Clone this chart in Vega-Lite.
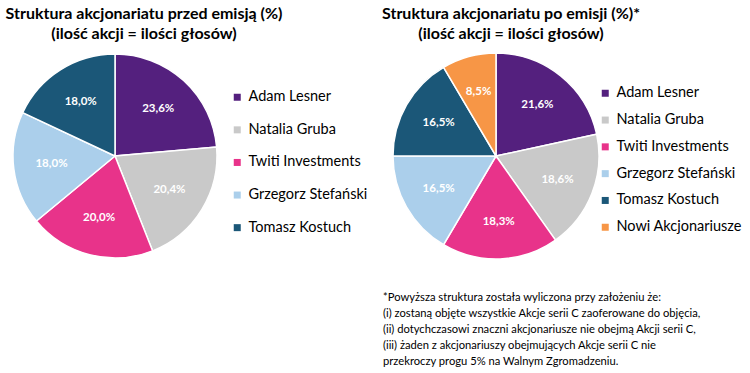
{
  "$schema": "https://vega.github.io/schema/vega-lite/v6.json",
  "padding": {"left": 0, "top": 6, "right": 0, "bottom": 0},
  "background": "white",
  "config": {"view": {"stroke": null}, "font": "Lato"},
  "title": {
    "text": [
      "*Powyższa struktura została wyliczona przy założeniu że:",
      "(i) zostaną objęte wszystkie Akcje serii C zaoferowane do objęcia,",
      "(ii) dotychczasowi znaczni akcjonariusze nie obejmą Akcji serii C,",
      "(iii) żaden z akcjonariuszy obejmujących Akcje serii C nie",
      "przekroczy progu 5% na Walnym Zgromadzeniu."
    ],
    "orient": "bottom", "anchor": "start", "dx": 383, "offset": 30,
    "fontSize": 11.2, "fontWeight": "normal", "lineHeight": 16, "color": "#000", "font": "Lato"
  },
  "spacing": 163,
  "bounds": "flush",
  "resolve": {"scale": {"color": "independent"}},
  "hconcat": [
    {
      "width": 230, "height": 212,
      "title": {"text": ["Struktura akcjonariatu przed emisją (%)", "(ilość akcji = ilości głosów)"], "dx": 29, "anchor": "middle", "fontSize": 16, "fontWeight": "bold", "lineHeight": 20, "offset": 8, "color": "#000", "font": "Lato"},
      "data": {"values": [
        {"name": "Adam Lesner", "value": 23.6, "order": 1, "label": "23,6%"},
        {"name": "Natalia Gruba", "value": 20.4, "order": 2, "label": "20,4%"},
        {"name": "Twiti Investments", "value": 20.0, "order": 3, "label": "20,0%"},
        {"name": "Grzegorz Stefański", "value": 18.0, "order": 4, "label": "18,0%"},
        {"name": "Tomasz Kostuch", "value": 18.0, "order": 5, "label": "18,0%"}
      ]},
      "layer": [
        {
          "mark": {"type": "arc", "outerRadius": 102, "stroke": "white", "strokeWidth": 1.5},
          "encoding": {
            "theta": {"field": "value", "type": "quantitative", "stack": true},
            "order": {"field": "order", "type": "quantitative"},
            "color": {
              "field": "name", "type": "nominal",
              "scale": {"domain": ["Adam Lesner", "Natalia Gruba", "Twiti Investments", "Grzegorz Stefański", "Tomasz Kostuch"],
                        "range": ["#54207e", "#c9c9c9", "#e8338a", "#abcfeb", "#1b5778"]},
              "legend": {"title": null, "orient": "none", "legendX": 230, "legendY": 40, "symbolType": "square", "symbolSize": 49, "symbolStrokeWidth": 0, "labelFontSize": 14.5, "labelFont": "Lato", "labelColor": "#000", "rowPadding": 17.6, "labelOffset": 4}
            }
          }
        },
        {
          "mark": {"type": "text", "radius": 64, "fontSize": 11.5, "fontWeight": "bold", "color": "white", "font": "Lato"},
          "encoding": {
            "theta": {"field": "value", "type": "quantitative", "stack": true},
            "order": {"field": "order", "type": "quantitative"},
            "text": {"field": "label"}
          }
        }
      ]
    },
    {
      "width": 206, "height": 212,
      "title": {"text": ["Struktura akcjonariatu po emisji (%)*", "(ilość akcji = ilości głosów)"], "dx": 15, "anchor": "middle", "fontSize": 16, "fontWeight": "bold", "lineHeight": 20, "offset": 8, "color": "#000", "font": "Lato"},
      "data": {"values": [
        {"name": "Adam Lesner", "value": 21.6, "order": 1, "label": "21,6%"},
        {"name": "Natalia Gruba", "value": 18.6, "order": 2, "label": "18,6%"},
        {"name": "Twiti Investments", "value": 18.3, "order": 3, "label": "18,3%"},
        {"name": "Grzegorz Stefański", "value": 16.5, "order": 4, "label": "16,5%"},
        {"name": "Tomasz Kostuch", "value": 16.5, "order": 5, "label": "16,5%"},
        {"name": "Nowi Akcjonariusze", "value": 8.5, "order": 6, "label": "8,5%"}
      ]},
      "layer": [
        {
          "mark": {"type": "arc", "outerRadius": 103, "stroke": "white", "strokeWidth": 1.5},
          "encoding": {
            "theta": {"field": "value", "type": "quantitative", "stack": true},
            "order": {"field": "order", "type": "quantitative"},
            "color": {
              "field": "name", "type": "nominal",
              "scale": {"domain": ["Adam Lesner", "Natalia Gruba", "Twiti Investments", "Grzegorz Stefański", "Tomasz Kostuch", "Nowi Akcjonariusze"],
                        "range": ["#54207e", "#c9c9c9", "#e8338a", "#abcfeb", "#1b5778", "#f79646"]},
              "legend": {"title": null, "orient": "none", "legendX": 205, "legendY": 36, "symbolType": "square", "symbolSize": 49, "symbolStrokeWidth": 0, "labelFontSize": 14.5, "labelFont": "Lato", "labelColor": "#000", "rowPadding": 11.8, "labelOffset": 4}
            }
          }
        },
        {
          "mark": {"type": "text", "radius": 66, "fontSize": 11.5, "fontWeight": "bold", "color": "white", "font": "Lato"},
          "encoding": {
            "theta": {"field": "value", "type": "quantitative", "stack": true},
            "order": {"field": "order", "type": "quantitative"},
            "text": {"field": "label"}
          }
        }
      ]
    }
  ]
}
